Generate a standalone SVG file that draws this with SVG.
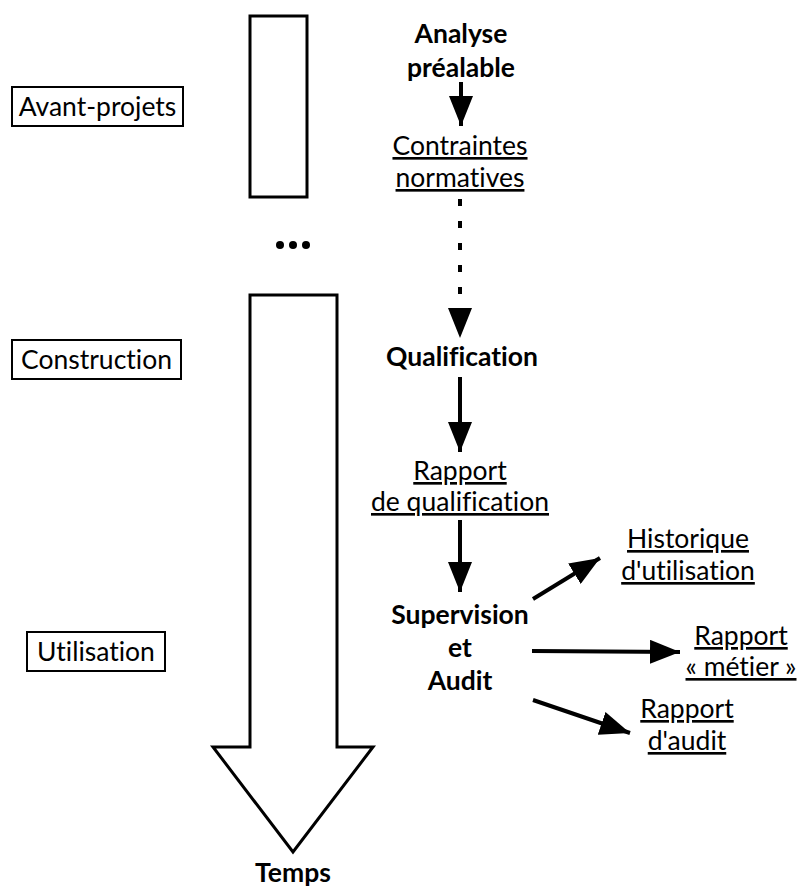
<svg xmlns="http://www.w3.org/2000/svg" width="806" height="889" viewBox="0 0 806 889">
<style>
text{font-family:"Lato","Open Sans","Liberation Sans",sans-serif;font-size:26.5px;fill:#000;text-anchor:middle;font-variant-ligatures:none}
.b{font-weight:bold;font-size:26.5px}
.u{text-decoration:underline}
.box{fill:#fff;stroke:#000;stroke-width:2}
.ln{stroke:#000;stroke-width:4;fill:none}
</style>
<defs>
<marker id="ah" viewBox="0 0 30 24" refX="30" refY="12" markerWidth="30" markerHeight="24" markerUnits="userSpaceOnUse" orient="auto">
<path d="M0,0 L30,12 L0,24 Z" fill="#000"/>
</marker>
</defs>
<rect width="806" height="889" fill="#fff"/>
<g id="phase-avant">
<rect class="box" x="12" y="87" width="171" height="39"/>
<text x="97.5" y="116">Avant-projets</text>
</g>
<g id="phase-construction">
<rect class="box" x="12" y="340" width="169" height="39"/>
<text x="96.5" y="369">Construction</text>
</g>
<g id="phase-utilisation">
<rect class="box" x="27" y="632" width="138" height="39"/>
<text x="96" y="661">Utilisation</text>
</g>
<g id="timeline">
<rect x="250" y="16" width="57" height="181" fill="#fff" stroke="#000" stroke-width="3"/>
<circle cx="280" cy="245" r="4"/><circle cx="293" cy="245" r="4"/><circle cx="306" cy="245" r="4"/>
<path d="M250,295 L337,295 L337,747 L373,747 L293,852 L213,747 L250,747 Z" fill="#fff" stroke="#000" stroke-width="3" stroke-linejoin="miter"/>
<text class="b" x="293" y="882">Temps</text>
</g>
<g id="analyse">
<text class="b" x="461" y="43">Analyse</text>
<text class="b" x="461" y="77">préalable</text>
</g>
<g id="contraintes">
<text class="u" x="460" y="155">Contraintes</text>
<text class="u" x="460" y="187">normatives</text>
</g>
<g id="qualification">
<text class="b" x="462" y="366">Qualification</text>
</g>
<g id="rapport-qualif">
<text class="u" x="460" y="480">Rapport</text>
<text class="u" x="460" y="511">de qualification</text>
</g>
<g id="supervision">
<text class="b" x="460" y="624">Supervision</text>
<text class="b" x="460" y="657">et</text>
<text class="b" x="460" y="690">Audit</text>
</g>
<g id="historique">
<text class="u" x="688" y="548">Historique</text>
<text class="u" x="688" y="580">d'utilisation</text>
</g>
<g id="rapport-metier">
<text class="u" x="741" y="645">Rapport</text>
<text class="u" x="741" y="676">« métier »</text>
</g>
<g id="rapport-audit">
<text class="u" x="687" y="718">Rapport</text>
<text class="u" x="687" y="750">d'audit</text>
</g>
<g id="connectors">
<line class="ln" x1="461" y1="82" x2="461" y2="126" marker-end="url(#ah)"/>
<line class="ln" x1="460" y1="199" x2="460" y2="300" stroke-dasharray="7,15"/>
<line x1="460" y1="305" x2="460" y2="338" stroke="#000" stroke-width="0.01" marker-end="url(#ah)"/>
<line class="ln" x1="460" y1="377" x2="460" y2="452" marker-end="url(#ah)"/>
<line class="ln" x1="460" y1="520" x2="460" y2="592" marker-end="url(#ah)"/>
<line class="ln" x1="533" y1="599" x2="600" y2="558" marker-end="url(#ah)"/>
<line class="ln" x1="532" y1="651" x2="680" y2="652" marker-end="url(#ah)"/>
<line class="ln" x1="533" y1="700" x2="630" y2="733" marker-end="url(#ah)"/>
</g>
</svg>
